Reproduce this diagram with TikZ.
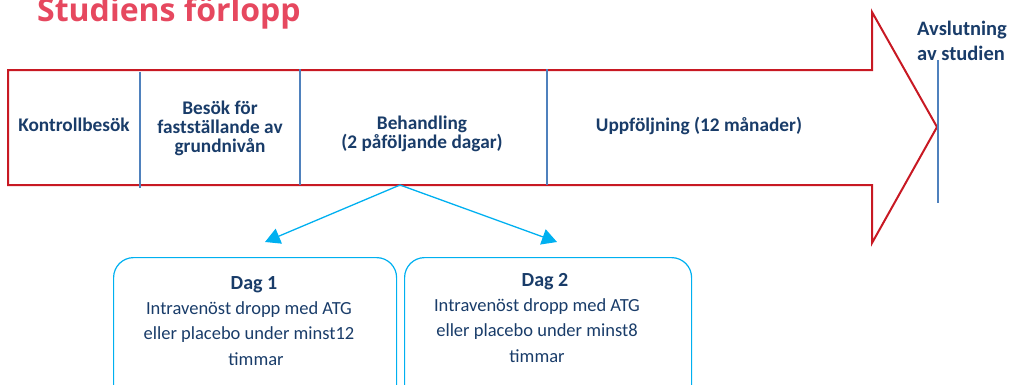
\documentclass[tikz,border=0pt]{standalone}
\usepackage{fontspec}
\setmainfont{Carlito}
\newfontfamily\titlefont{Open Sans}
\usetikzlibrary{arrows.meta}
\definecolor{arrowred}{RGB}{200,25,35}
\definecolor{divblue}{RGB}{79,129,189}
\definecolor{txtblue}{RGB}{25,60,105}
\definecolor{cyanline}{RGB}{0,176,240}
\definecolor{titlered}{RGB}{230,72,95}
\begin{document}
\begin{tikzpicture}[x=1pt,y=-1pt,
  phase/.style={font=\bfseries\fontsize{19.3}{19}\selectfont, text=txtblue, align=center, inner sep=0pt, anchor=base},
  divider/.style={divblue, line width=2.5pt},
  link/.style={cyanline, line width=1.3pt, -{Triangle[length=15pt,width=16pt]}},
  daybox/.style={draw=cyanline, line width=1.2pt, rounded corners=20pt, minimum width=283pt, minimum height=160pt, anchor=north west, inner sep=0pt},
  daytext/.style={font=\fontsize{18.5}{25.3}\selectfont, text=txtblue, align=center, inner sep=0pt, anchor=base}]
\useasboundingbox (0,0) rectangle (1011,384);
\node[anchor=base west, inner sep=0pt, text=titlered, font=\titlefont\bfseries\fontsize{32}{32}\selectfont] (title) at (37,21) {Studiens förlopp};
\draw[arrowred, line width=2pt, line join=miter] (8,70) -- (872,70) -- (872,12) -- (937,127) -- (872,243) -- (872,185) -- (8,185) -- cycle;
\draw[divider] (140,72) -- (140,188);
\draw[divider] (300,69) -- (300,185);
\draw[divider] (547,69) -- (547,185);
\draw[divblue, line width=1.2pt] (938,60) -- (938,203);
\node[phase] (kontroll) at (74,131) {Kontrollbesök};
\node[phase] (besok) at (220,152) {Besök för\\fastställande av\\grundnivån};
\node[phase] (behandling) at (422,148) {Behandling\\(2 påföljande dagar)};
\node[phase] (uppfoljning) at (699,131) {Uppföljning (12 månader)};
\node[font=\bfseries\fontsize{20.5}{24.5}\selectfont, text=txtblue, align=left, inner sep=0pt, anchor=base west] (slut) at (917,60) {Avslutning\\av studien};
\node[daybox] (box1) at (113,257) {};
\node[daybox, minimum width=287pt] (box2) at (404,257) {};
\node[daytext] (dag1) at (249,365) {\hspace*{10pt}{\bfseries\fontsize{20}{25}\selectfont Dag 1}\\Intravenöst dropp med ATG\\eller placebo under minst12\\\hspace*{14pt}timmar};
\node[daytext] (dag2) at (537,362) {\hspace*{16pt}{\bfseries\fontsize{20}{25}\selectfont Dag 2}\\Intravenöst dropp med ATG\\eller placebo under minst8\\timmar};
\coordinate (apex) at (400,185);
\coordinate (end1) at (265,242);
\coordinate (end2) at (557,242);
\draw[link] (apex) -- (end1);
\draw[link] (apex) -- (end2);
\end{tikzpicture}
\end{document}
